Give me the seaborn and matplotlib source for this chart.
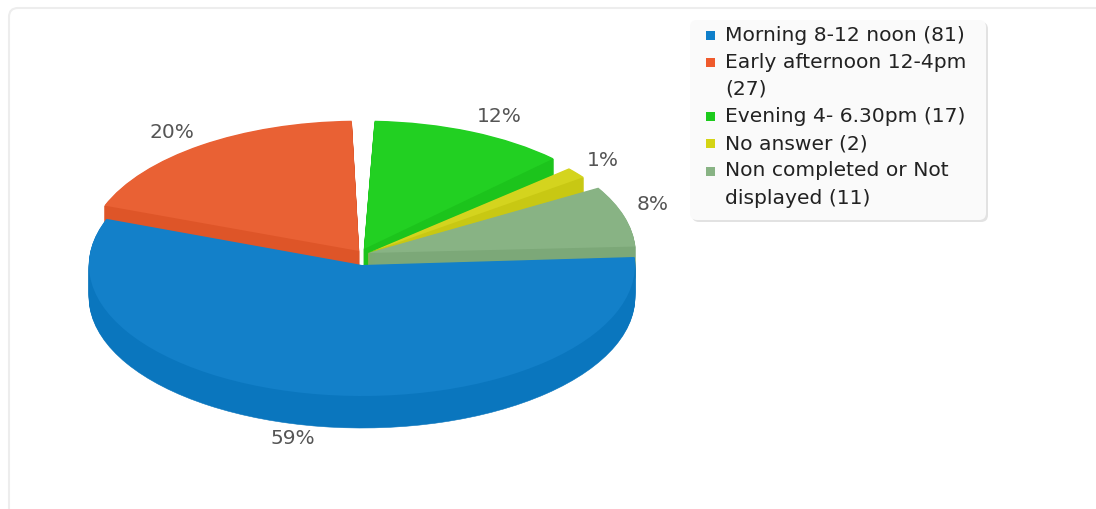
import textwrap

import matplotlib
matplotlib.use("Agg")
import matplotlib.pyplot as plt
from matplotlib.patches import FancyBboxPatch, Rectangle
import seaborn as sns

categories = ["Morning 8-12 noon", "Early afternoon 12-4pm", "Evening 4- 6.30pm",
              "No answer", "Non completed or Not displayed"]
counts = [81, 27, 17, 2, 11]

top_colors = ["#1380C9", "#E96134", "#22D022", "#D4D41E", "#88B384"]
side_colors = ["#0A76BE", "#DE5528", "#1CC41C", "#C8C813", "#7CA878"]
swatch_colors = ["#0F7FCA", "#EF5A2C", "#1CCB1C", "#D4D414", "#88B384"]

# pie geometry in pixels of the final image
W, H = 1096, 509
RX, RY = 273, 131
CX, CY = 362, 258
DEPTH = 32

# the slices are pulled apart, so each has its own tip and start angle
tips = [(362, 265), (359, 251), (364, 249), (368, 253), (368, 253)]
starts = [3.5, 159.6, 87.7, 41.3, 30.6]
radii = [1.0, 0.995, 0.98, 0.98, 0.98]
sweep_scale = 0.966
draw_order = [1, 2, 3, 4, 0]

label_pos = [(293, 438), (172, 132), (499, 116), (603, 160), (653, 205)]

sns.set_theme(style="white")
plt.rcParams["font.family"] = ["DejaVu Sans"]

fig = plt.figure(figsize=(W / 100, H / 100), dpi=100)
fig.patch.set_facecolor("white")

bg = fig.add_axes([0, 0, 1, 1], zorder=0)
bg.set_xlim(0, W)
bg.set_ylim(H, 0)
bg.axis("off")

# panel border, the right and bottom edges run off the image
bg.add_patch(FancyBboxPatch((9, 8), 1110, 510, boxstyle="round,pad=0,rounding_size=9",
                            facecolor="white", edgecolor="#EDEDED", linewidth=1.5))

ax = fig.add_axes([0, 0, 1, 1], zorder=1)
total = sum(counts)
for i in draw_order:
    frac = counts[i] / total * sweep_scale
    cx = (tips[i][0] - CX) / RX
    cy = (CY - tips[i][1]) / RY
    # extrude downward one pixel at a time, then put the top face on
    for d in range(DEPTH, 0, -1):
        ax.pie([frac], normalize=False, colors=[side_colors[i]], startangle=starts[i],
               counterclock=False, center=(cx, cy - d / RY), radius=radii[i],
               wedgeprops={"linewidth": 0.4, "edgecolor": side_colors[i]})
    ax.pie([frac], normalize=False, colors=[top_colors[i]], startangle=starts[i],
           counterclock=False, center=(cx, cy), radius=radii[i],
           wedgeprops={"linewidth": 0})

ax.set_aspect("auto")
ax.set_xlim(-CX / RX, (W - CX) / RX)
ax.set_ylim((CY - H) / RY, CY / RY)
ax.axis("off")

for count, (x, y) in zip(counts, label_pos):
    bg.text(x, y, f"{count / total * 100:.0f}%", ha="center", va="center",
            fontsize=14.5, color="#555555", zorder=5)

# legend box
bg.add_patch(FancyBboxPatch((692, 22), 296, 200, boxstyle="round,pad=0,rounding_size=7",
                            facecolor="#E2E2E2", edgecolor="none", zorder=2))
bg.add_patch(FancyBboxPatch((690, 20), 296, 200, boxstyle="round,pad=0,rounding_size=7",
                            facecolor="#FAFAFA", edgecolor="none", zorder=3))

row_h = 27.2
row_y = 35
for name, count, color in zip(categories, counts, swatch_colors):
    lines = textwrap.wrap(f"{name} ({count})", width=23)
    bg.add_patch(Rectangle((705.5, row_y - 4.5), 9, 9, facecolor=color, edgecolor="none", zorder=4))
    for line in lines:
        bg.text(725, row_y, line, ha="left", va="center", fontsize=14.6, color="#222222", zorder=5)
        row_y += row_h

fig.savefig("out.png", dpi=100)
